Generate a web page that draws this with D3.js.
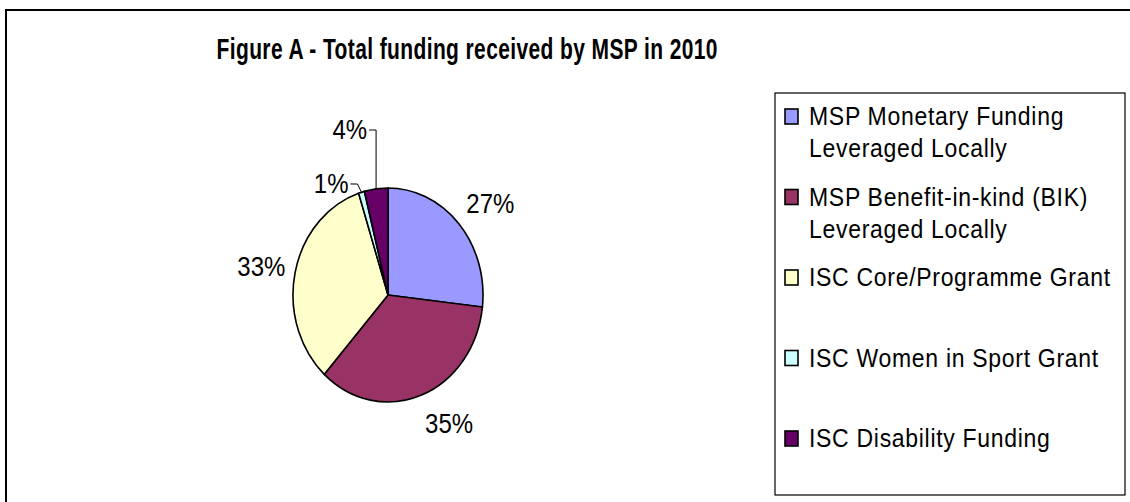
<!DOCTYPE html>
<head>
	<script src="https://d3js.org/d3.v7.min.js"></script>
	<style>
		body { margin: 0; background: #fff; }
		text { font-family: "Liberation Sans", Arial, sans-serif; }
	</style>
</head>
<body>
	<script type="text/javascript">

		// data
		var categories = ["MSP Monetary Funding Leveraged Locally",
			"MSP Benefit-in-kind (BIK) Leveraged Locally",
			"ISC Core/Programme Grant",
			"ISC Women in Sport Grant",
			"ISC Disability Funding"];
		var legendLines = [["MSP Monetary Funding", "Leveraged Locally"],
			["MSP Benefit-in-kind (BIK)", "Leveraged Locally"],
			["ISC Core/Programme Grant"],
			["ISC Women in Sport Grant"],
			["ISC Disability Funding"]];
		var values = [26.8, 34.9, 33.3, 1.0, 4.0];
		var colors = ["#9999FF", "#993366", "#FFFFCC", "#CCFFFF", "#660066"];
		var title = "Figure A - Total funding received by MSP in 2010";

		var w = 1130;
		var h = 502;
		var svg = d3.select("body")
			.append("svg")
			.attr("width", w)
			.attr("height", h);

		// chart area border (runs off the right / bottom)
		svg.append("rect")
			.attr("x", 6).attr("y", 10)
			.attr("width", 1200).attr("height", 600)
			.attr("fill", "none")
			.attr("stroke", "#000")
			.attr("stroke-width", 2);

		// title
		svg.append("text")
			.attr("transform", "translate(467,59) scale(1,1.42)")
			.attr("text-anchor", "middle")
			.attr("font-size", 21)
			.attr("font-weight", "bold")
			.attr("textLength", 501)
			.attr("lengthAdjust", "spacing")
			.text(title);

		// pie (slightly taller than wide)
		var cx = 388, cy = 295, r = 95, sy = 1.126;
		var total = d3.sum(values);
		var pie = d3.pie().sort(null).value(function(d){ return d; });
		var arcs = pie(values);
		var arc = d3.arc().innerRadius(0).outerRadius(r);

		var g = svg.append("g")
			.attr("transform", "translate(" + cx + "," + cy + ") scale(1," + sy + ")");

		g.selectAll("path")
			.data(arcs)
			.enter()
			.append("path")
			.attr("d", arc)
			.attr("fill", function(d, i){ return colors[i]; })
			.attr("stroke", "#000")
			.attr("stroke-width", 1.6)
			.attr("vector-effect", "non-scaling-stroke");

		// screen point on the ellipse at angle a, radii rx / ry
		function pt(a, rx, ry) {
			return [cx + rx * Math.sin(a), cy - (ry || rx) * Math.cos(a) * sy];
		}

		function pct(v) { return Math.round(v / total * 100) + "%"; }

		// small slices get leader lines, label lifted above the pie
		var leaderY = {3: 184, 4: 130};

		arcs.forEach(function(d, i) {
			var a = (d.startAngle + d.endAngle) / 2;
			if (leaderY[i] !== undefined) {
				var e = pt(a, r);
				var ly = leaderY[i];
				var ex = e[0] - (i === 3 ? 4 : 0);
				svg.append("polyline")
					.attr("points", [e, [ex, ly], [ex - 7, ly]].map(function(p){ return p.join(","); }).join(" "))
					.attr("fill", "none")
					.attr("stroke", "#000")
					.attr("stroke-width", 1);
				svg.append("text")
					.attr("transform", "translate(" + (ex - 9) + "," + ly + ") scale(1," + sy + ")")
					.attr("text-anchor", "end")
					.attr("dy", "0.35em")
					.attr("font-size", 24)
					.text(pct(d.value));
			} else {
				var p = pt(a, 105, 113);
				var s = Math.sin(a), c = Math.cos(a);
				var anchor = s > 0.3 ? "start" : (s < -0.3 ? "end" : "middle");
				svg.append("text")
					.attr("transform", "translate(" + p[0] + "," + (p[1] - c * 10) + ") scale(1," + sy + ")")
					.attr("text-anchor", anchor)
					.attr("dy", "0.35em")
					.attr("font-size", 24)
					.text(pct(d.value));
			}
		});

		// legend
		var lx = 775, ly0 = 93;
		svg.append("rect")
			.attr("x", lx).attr("y", ly0)
			.attr("width", 350).attr("height", 402)
			.attr("fill", "#fff")
			.attr("stroke", "#000")
			.attr("stroke-width", 1.2);

		var step = 80.5;
		var items = svg.selectAll("g.legend")
			.data(categories)
			.enter()
			.append("g")
			.attr("class", "legend")
			.attr("transform", function(d, i){ return "translate(" + lx + "," + (125 + i * step) + ")"; });

		items.append("rect")
			.attr("x", 10).attr("y", -16)
			.attr("width", 13).attr("height", 15)
			.attr("fill", function(d, i){ return colors[i]; })
			.attr("stroke", "#000")
			.attr("stroke-width", 1.6);

		items.each(function(d, i) {
			var item = d3.select(this);
			legendLines[i].forEach(function(line, j) {
				item.append("text")
					.attr("transform", "translate(34," + (j * 32) + ") scale(1," + sy + ")")
					.attr("font-size", 23)
					.attr("letter-spacing", 0.7)
					.text(line);
			});
		});

	</script>
</body>
